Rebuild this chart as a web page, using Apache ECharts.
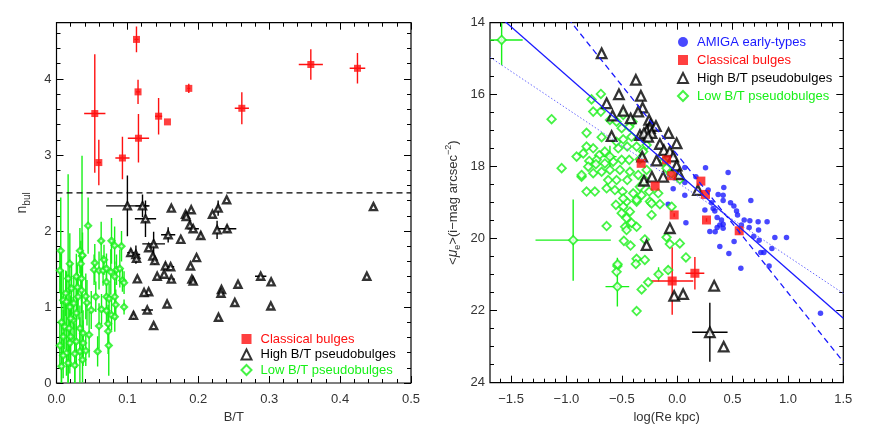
<!DOCTYPE html>
<html>
<head>
<meta charset="utf-8">
<script src="https://cdn.jsdelivr.net/npm/echarts@6/dist/echarts.min.js"></script>
<style>
  html, body { margin: 0; padding: 0; background: #fff; }
  #chart { width: 871px; height: 435px; }
</style>
</head>
<body>
<div id="chart"></div>
<script>
// ---- left panel: n_bul vs B/T  ([x, y, xErr, yErr]) ----
const classicalL = [
  [0.1128, 4.52, 0.003, 0.17], [0.115, 3.83, 0.003, 0.16], [0.054, 3.545, 0.015, 0.78],
  [0.0597, 2.90, 0.003, 0.30], [0.093, 2.96, 0.01, 0.28], [0.1156, 3.22, 0.015, 0.32],
  [0.144, 3.51, 0.005, 0.24], [0.1565, 3.435, 0, 0], [0.1866, 3.876, 0.002, 0.06],
  [0.2614, 3.614, 0.01, 0.21], [0.3587, 4.19, 0.017, 0.2], [0.4245, 4.14, 0.011, 0.2]
];
const highL = [
  [0.100, 2.33, 0.03, 0.4], [0.1213, 2.33, 0.01, 0.15], [0.1255, 2.16, 0.015, 0.24],
  [0.162, 2.30, 0, 0], [0.190, 2.28, 0, 0], [0.182, 2.22, 0, 0], [0.183, 2.19, 0, 0],
  [0.228, 2.30, 0.003, 0.1], [0.240, 2.41, 0, 0], [0.220, 2.22, 0, 0], [0.447, 2.32, 0, 0],
  [0.188, 2.08, 0, 0.05], [0.1928, 2.03, 0.008, 0], [0.2265, 2.015, 0, 0.12],
  [0.2406, 2.03, 0.013, 0.05], [0.2035, 1.94, 0, 0.05], [0.1575, 1.95, 0.01, 0.1],
  [0.1753, 1.89, 0, 0], [0.137, 1.83, 0.016, 0.16], [0.130, 1.78, 0, 0],
  [0.1048, 1.715, 0.005, 0.05], [0.112, 1.69, 0.006, 0.12], [0.1128, 1.64, 0, 0.05],
  [0.136, 1.67, 0, 0.05], [0.1386, 1.61, 0, 0.05], [0.1975, 1.65, 0, 0],
  [0.1537, 1.54, 0, 0.05], [0.161, 1.53, 0.005, 0], [0.189, 1.54, 0, 0],
  [0.1518, 1.43, 0, 0], [0.142, 1.405, 0, 0], [0.114, 1.37, 0, 0], [0.162, 1.366, 0.005, 0],
  [0.191, 1.366, 0, 0], [0.1928, 1.34, 0, 0], [0.256, 1.30, 0, 0], [0.288, 1.405, 0.008, 0],
  [0.3027, 1.33, 0, 0], [0.2327, 1.23, 0, 0], [0.232, 1.18, 0, 0], [0.130, 1.20, 0, 0],
  [0.1235, 1.19, 0, 0], [0.4377, 1.405, 0, 0], [0.156, 1.04, 0, 0], [0.2515, 1.06, 0, 0],
  [0.3023, 1.013, 0, 0], [0.128, 0.96, 0.008, 0], [0.1086, 0.89, 0.003, 0.05],
  [0.2285, 0.865, 0, 0], [0.137, 0.755, 0, 0]
];
const lowL = [
  [0.006, 1.74, 0.002, 0.7], [0.007, 0.80, 0.002, 0.9], [0.0164, 1.375, 0.003, 1.37],
  [0.036, 1.67, 0.003, 1.32], [0.033, 0.416, 0.003, 0.45], [0.0446, 2.07, 0.003, 0.37],
  [0.063, 1.87, 0.004, 0.25], [0.0776, 1.87, 0.003, 0.3], [0.082, 1.81, 0.003, 0.25],
  [0.0917, 1.80, 0.003, 0.2], [0.033, 1.74, 0.003, 0.3], [0.0367, 1.68, 0.003, 0.3],
  [0.0188, 1.57, 0.003, 0.4], [0.054, 1.58, 0.003, 0.25], [0.067, 1.62, 0.003, 0.2],
  [0.0343, 1.57, 0.003, 0.3], [0.053, 1.49, 0.003, 0.2], [0.060, 1.48, 0.003, 0.25],
  [0.0657, 1.48, 0.003, 0.2], [0.0705, 1.505, 0.003, 0.2], [0.0766, 1.46, 0.003, 0.3],
  [0.0846, 1.49, 0.003, 0.2], [0.0893, 1.505, 0.003, 0.25], [0.0047, 1.48, 0.002, 0.3],
  [0.028, 1.40, 0.003, 0.3], [0.0353, 1.375, 0.003, 0.3], [0.0705, 1.33, 0.003, 0.2],
  [0.0822, 1.40, 0.003, 0.2], [0.093, 1.35, 0.003, 0.15], [0.0953, 1.32, 0.003, 0.15],
  [0.0212, 1.245, 0.003, 0.35], [0.0353, 1.22, 0.003, 0.3], [0.0413, 1.14, 0.003, 0.3],
  [0.0554, 1.135, 0.003, 0.2], [0.0705, 1.135, 0.003, 0.2], [0.0742, 1.11, 0.003, 0.2],
  [0.0822, 1.135, 0.003, 0.2], [0.0094, 1.09, 0.002, 0.4], [0.014, 1.07, 0.002, 0.4],
  [0.0244, 1.05, 0.003, 0.35], [0.043, 1.056, 0.003, 0.3], [0.0836, 1.03, 0.003, 0.2],
  [0.0953, 1.00, 0.003, 0.1], [0.0635, 0.97, 0.003, 0.2], [0.049, 0.96, 0.003, 0.25],
  [0.0705, 0.95, 0.003, 0.2], [0.028, 0.92, 0.003, 0.3], [0.0776, 0.895, 0.003, 0.2],
  [0.0822, 0.873, 0.003, 0.2], [0.0234, 0.83, 0.003, 0.3], [0.060, 0.75, 0.003, 0.3],
  [0.0728, 0.78, 0.003, 0.25], [0.0728, 0.68, 0.003, 0.3], [0.0375, 0.656, 0.003, 0.3],
  [0.046, 0.634, 0.003, 0.3], [0.020, 0.61, 0.003, 0.4], [0.0094, 0.61, 0.002, 0.35],
  [0.028, 0.546, 0.003, 0.35], [0.0188, 0.525, 0.003, 0.4], [0.0375, 0.525, 0.003, 0.3],
  [0.0047, 0.494, 0.002, 0.3], [0.0737, 0.494, 0.003, 0.4], [0.058, 0.416, 0.003, 0.2],
  [0.014, 0.395, 0.002, 0.3], [0.0258, 0.386, 0.003, 0.4], [0.0413, 0.425, 0.003, 0.2],
  [0.0094, 0.363, 0.002, 0.3], [0.0367, 0.307, 0.003, 0.3], [0.007, 0.22, 0.002, 0.25],
  [0.0164, 0.264, 0.003, 0.3], [0.0258, 0.233, 0.003, 0.3], [0.0117, 0.74, 0.002, 0.3],
  [0.0178, 0.72, 0.003, 0.3], [0.033, 0.72, 0.003, 0.3], [0.020, 0.85, 0.003, 0.3],
  [0.013, 1.18, 0.002, 0.3], [0.0296, 1.26, 0.003, 0.3], [0.0305, 1.135, 0.003, 0.3],
  [0.0188, 1.00, 0.003, 0.3]
];
const dividerL = [[0, 2.5], [0.5, 2.5]];

// ---- right panel: <mu_e> vs log(Re) ----
const amigaR = [
  [0.256, 18.03], [0.46, 18.16], [0.069, 18.02], [0.169, 18.28], [0.069, 18.44], [-0.036, 18.61],
  [0.28, 18.65], [0.069, 18.79], [0.37, 18.77], [0.421, 18.58], [0.415, 18.79], [0.415, 18.94],
  [0.31, 19.0], [0.482, 19.0], [0.512, 19.09], [0.665, 18.94], [-0.081, 19.04], [0.325, 19.16],
  [0.34, 19.23], [0.25, 19.20], [0.536, 19.23], [0.545, 19.34], [0.361, 19.41], [0.605, 19.48],
  [0.40, 19.48], [0.079, 19.56], [0.385, 19.62], [0.415, 19.60], [0.361, 19.69], [0.731, 19.53],
  [0.812, 19.53], [0.735, 19.76], [0.65, 19.69], [0.295, 19.80], [0.343, 19.81], [0.692, 19.93],
  [0.74, 20.04], [0.882, 19.97], [0.987, 19.97], [0.514, 20.08], [0.385, 20.22], [0.855, 20.27],
  [0.783, 20.38], [0.755, 20.38], [0.467, 20.41], [0.83, 20.76], [0.575, 20.82], [1.294, 22.07],
  [0.415, 19.71], [0.58, 19.62], [0.656, 19.5]
];
const classicalR = [
  [-0.325, 17.906, 0, 0], [-0.199, 18.54, 0, 0], [-0.096, 17.81, 0, 0], [-0.05, 18.25, 0, 0],
  [0.214, 18.40, 0, 0], [0.256, 18.77, 0, 0], [-0.027, 19.34, 0, 0.05], [0.265, 19.48, 0, 0.05],
  [0.56, 19.78, 0, 0.1], [-0.045, 21.175, 0.19, 0.94], [0.16, 20.96, 0.085, 0.45]
];
const highR = [
  [-0.682, 14.85, 0, 0], [-0.373, 15.59, 0, 0], [-0.526, 15.99, 0, 0], [-0.328, 16.03, 0, 0],
  [-0.637, 16.24, 0, 0], [-0.312, 16.36, 0, 0], [-0.487, 16.45, 0, 0], [-0.352, 16.47, 0, 0],
  [-0.583, 16.58, 0, 0], [-0.42, 16.66, 0, 0], [-0.253, 16.70, 0, 0], [-0.24, 16.84, 0, 0],
  [-0.246, 16.93, 0, 0], [-0.192, 16.87, 0, 0], [-0.276, 17.01, 0, 0], [-0.336, 17.12, 0, 0],
  [-0.30, 17.07, 0, 0], [-0.231, 17.07, 0, 0], [-0.262, 17.17, 0, 0], [-0.592, 17.15, 0, 0],
  [-0.078, 17.07, 0, 0], [-0.156, 17.37, 0, 0], [-0.005, 17.35, 0, 0], [-0.12, 17.54, 0, 0],
  [-0.066, 17.58, 0, 0], [-0.036, 17.72, 0, 0], [-0.316, 17.72, 0, 0], [-0.186, 17.83, 0, 0],
  [-0.005, 17.97, 0, 0], [0.018, 18.21, 0, 0], [-0.30, 18.39, 0, 0], [-0.228, 18.28, 0, 0],
  [-0.126, 18.28, 0, 0], [0.187, 18.65, 0, 0], [-0.066, 19.71, 0, 0], [-0.276, 20.18, 0, 0],
  [-0.027, 21.59, 0, 0], [0.054, 21.54, 0, 0], [0.334, 21.31, 0, 0], [0.295, 22.60, 0.16, 0.82],
  [0.42, 23.0, 0, 0]
];
const lowR = [
  [-1.585, 14.48], [-0.689, 15.98], [-0.773, 16.13], [-0.689, 16.47], [-1.134, 16.68],
  [-0.758, 16.47], [-0.487, 16.56], [-0.607, 16.70], [-0.547, 16.75], [-0.403, 16.75],
  [-0.818, 17.06], [-0.682, 17.18], [-0.501, 16.93], [-0.433, 16.89], [-0.547, 17.31],
  [-0.487, 17.24], [-0.412, 17.17], [-0.758, 17.49], [-0.848, 17.63], [-0.704, 17.68],
  [-0.653, 17.58], [-0.532, 17.49], [-0.451, 17.44], [-0.366, 17.44], [-0.307, 17.58],
  [-0.276, 17.40], [-0.794, 17.84], [-0.727, 17.81], [-0.653, 17.91], [-0.578, 17.86],
  [-0.501, 17.81], [-0.433, 17.81], [-0.607, 17.72], [-1.043, 18.04], [-0.863, 18.28],
  [-0.758, 18.18], [-0.682, 18.14], [-0.607, 18.09], [-0.517, 18.09], [-0.427, 18.14],
  [-0.352, 18.23], [-0.276, 18.09], [-0.623, 18.37], [-0.547, 18.37], [-0.451, 18.37],
  [-0.292, 18.37], [-0.818, 18.69], [-0.743, 18.69], [-0.637, 18.60], [-0.562, 18.65],
  [-0.493, 18.69], [-0.397, 18.74], [-0.337, 18.56], [-0.253, 18.69], [-0.171, 18.74],
  [-0.457, 18.97], [-0.366, 18.97], [-0.246, 18.97], [-0.553, 19.06], [-0.096, 18.04],
  [0.024, 18.35], [-0.337, 17.79], [-0.487, 18.88], [-0.366, 18.92], [-0.321, 18.79],
  [-0.231, 19.02], [-0.156, 19.04], [-0.05, 19.11], [-0.487, 19.11], [-0.427, 19.25],
  [-0.501, 19.29], [-0.457, 19.43], [-0.412, 19.56], [-0.366, 19.67], [-0.47, 19.67],
  [-0.457, 19.76], [-0.637, 19.65], [-0.231, 19.34], [-0.096, 19.96], [-0.481, 20.06],
  [-0.421, 20.19], [-0.292, 20.02], [-0.066, 20.15], [0.024, 20.13], [0.079, 20.52],
  [-0.366, 20.56], [-0.292, 20.59], [-0.373, 20.70], [-0.081, 20.87], [-0.168, 20.99],
  [-0.262, 21.21], [-0.321, 21.41], [-0.366, 22.01], [-0.54, 20.76], [-0.547, 20.92],
  [-0.54, 21.33], [-0.908, 17.72], [-0.863, 18.23], [-0.818, 17.44], [-0.734, 17.93],
  [-0.803, 18.0], [-0.939, 20.04], [-0.538, 20.71], [-0.12, 17.85], [-0.055, 18.2]
];
const lowErrR = [
  [-1.585, 14.48, 0.19, 0.7], [-0.939, 20.04, 0.34, 1.13], [-0.54, 21.33, 0.107, 0.55],
  [-0.54, 20.76, 0.03, 0.23], [-0.607, 17.72, 0.06, 0.3], [-0.168, 20.99, 0.03, 0.2],
  [-0.081, 20.87, 0.02, 0.12]
];
const fitSolid = [[-1.69, 13.6], [1.5, 22.21]];
const fitDashed = [[-1.1, 13.44], [1.5, 23.42]];
const fitDotted = [[-1.69, 14.96], [1.5, 21.52]];

// ---- ticks ----
const ticksXL = [0, 0.1, 0.2, 0.3, 0.4, 0.5];
const minorXL = [0.02, 0.04, 0.06, 0.08, 0.12, 0.14, 0.16, 0.18, 0.22, 0.24, 0.26, 0.28,
  0.32, 0.34, 0.36, 0.38, 0.42, 0.44, 0.46, 0.48];
const ticksYL = [0, 1, 2, 3, 4];
const minorYL = [0.2, 0.4, 0.6, 0.8, 1.2, 1.4, 1.6, 1.8, 2.2, 2.4, 2.6, 2.8, 3.2, 3.4, 3.6, 3.8,
  4.2, 4.4, 4.6];
const ticksXR = [-1.5, -1.0, -0.5, 0, 0.5, 1.0, 1.5];
const minorXR = [-1.6, -1.4, -1.3, -1.2, -1.1, -0.9, -0.8, -0.7, -0.6, -0.4, -0.3, -0.2, -0.1,
  0.1, 0.2, 0.3, 0.4, 0.6, 0.7, 0.8, 0.9, 1.1, 1.2, 1.3, 1.4];
const ticksYR = [14, 16, 18, 20, 22, 24];
const minorYR = [14.5, 15, 15.5, 16.5, 17, 17.5, 18.5, 19, 19.5, 20.5, 21, 21.5, 22.5, 23, 23.5];

const RED = '#ff1010';
const GREEN = '#18f018';
const BLUE = '#1a1aff';
const FONT = 'Liberation Sans';
const labelStyle = { color: '#333', fontFamily: FONT, fontSize: 13 };
const tickLine = { color: '#000', width: 1 };

function axisSet(dim, grid, min, max, major, minor, fmt, extra) {
  const sides = dim === 'x' ? ['bottom', 'top'] : ['left', 'right'];
  const base = {
    type: 'value', gridIndex: grid, min: min, max: max, inverse: !!extra.inverse,
    splitLine: { show: false }, axisLine: { show: false, onZero: false }
  };
  return [
    Object.assign({}, base, {
      position: sides[0], name: extra.name, nameLocation: 'middle', nameGap: extra.nameGap,
      nameTextStyle: Object.assign({}, labelStyle, extra.nameStyle || {}),
      axisTick: { inside: true, length: 7, customValues: major, lineStyle: tickLine },
      axisLabel: Object.assign({ customValues: major, formatter: fmt, margin: extra.margin }, labelStyle)
    }),
    Object.assign({}, base, {
      position: sides[0],
      axisTick: { inside: true, length: 4, customValues: minor, lineStyle: tickLine },
      axisLabel: { show: false }
    }),
    Object.assign({}, base, {
      position: sides[1],
      axisTick: { inside: true, length: 7, customValues: major, lineStyle: tickLine },
      axisLabel: { show: false }
    }),
    Object.assign({}, base, {
      position: sides[1],
      axisTick: { inside: true, length: 4, customValues: minor, lineStyle: tickLine },
      axisLabel: { show: false }
    })
  ];
}

function errorBars(data, axis, color) {
  return {
    type: 'custom', xAxisIndex: axis, yAxisIndex: axis, clip: true, silent: true,
    data: data, encode: { x: 0, y: 1 },
    renderItem: function (params, api) {
      const x = api.value(0), y = api.value(1), ex = api.value(2), ey = api.value(3);
      const kids = [];
      const st = { stroke: color, lineWidth: 1.4 };
      if (ex > 0) {
        const a = api.coord([x - ex, y]), b = api.coord([x + ex, y]);
        kids.push({ type: 'line', shape: { x1: a[0], y1: a[1], x2: b[0], y2: b[1] }, style: st });
      }
      if (ey > 0) {
        const a = api.coord([x, y - ey]), b = api.coord([x, y + ey]);
        kids.push({ type: 'line', shape: { x1: a[0], y1: a[1], x2: b[0], y2: b[1] }, style: st });
      }
      return { type: 'group', children: kids };
    }
  };
}

const fmtR = v => (v < 0 ? '\u2212' : '') + Math.abs(v).toFixed(1);
const legendText = { fontFamily: FONT, fontSize: 13, padding: [0, 0, 0, 4] };

const chart = echarts.init(document.getElementById('chart'));
chart.setOption({
  animation: false,
  backgroundColor: '#fff',
  grid: [
    { left: 56.5, right: 460, top: 22.7, bottom: 52, show: true, borderColor: '#000', borderWidth: 1.2 },
    { left: 490, right: 27.7, top: 22.7, bottom: 52.3, show: true, borderColor: '#000', borderWidth: 1.2 }
  ],
  xAxis: [].concat(
    axisSet('x', 0, 0, 0.5, ticksXL, minorXL, v => v.toFixed(1), { name: 'B/T', nameGap: 27, margin: 10 }),
    axisSet('x', 1, -1.69, 1.5, ticksXR, minorXR, fmtR, { name: 'log(Re kpc)', nameGap: 28, margin: 10 })
  ),
  yAxis: [].concat(
    axisSet('y', 0, 0, 4.74, ticksYL, minorYL, v => String(v), {
      name: '{n|n}{s|bul}', nameGap: 24, margin: 5,
      nameStyle: { rich: { n: { fontSize: 14, fontFamily: FONT, color: '#333' },
        s: { fontSize: 10, fontFamily: FONT, color: '#333', verticalAlign: 'bottom', padding: [10, 0, 0, 0] } } }
    }),
    axisSet('y', 1, 14, 24, ticksYR, minorYR, v => String(v), {
      inverse: true, name: '<{mu|\u03bc}{e|e}>(i\u2212mag arcsec{sup|\u22122})', nameGap: 28, margin: 5,
      nameStyle: { fontSize: 13, rich: {
        mu: { fontSize: 14, fontStyle: 'italic', fontFamily: FONT, color: '#333' },
        e: { fontSize: 9, fontFamily: FONT, color: '#333', verticalAlign: 'bottom', padding: [9, 0, 0, 0] },
        sup: { fontSize: 9, fontFamily: FONT, color: '#333', verticalAlign: 'top', padding: [0, 0, 9, 0] }
      } }
    })
  ),
  legend: [
    {
      left: 235.5, top: 327.5, orient: 'vertical', itemWidth: 10, itemHeight: 10, itemGap: 2.5,
      selectedMode: false, textStyle: legendText,
      data: [
        { name: 'Classical bulges', textStyle: { color: RED } },
        { name: 'High B/T pseudobulges', textStyle: { color: '#000' } },
        { name: 'Low B/T pseudobulges', textStyle: { color: GREEN } }
      ]
    },
    {
      left: 672, top: 30.5, orient: 'vertical', itemWidth: 10, itemHeight: 10, itemGap: 5,
      selectedMode: false, textStyle: legendText,
      data: [
        { name: 'AMIGA early-types', textStyle: { color: BLUE } },
        { name: 'Classical bulges', textStyle: { color: RED } },
        { name: 'High B/T pseudobulges', textStyle: { color: '#000' } },
        { name: 'Low B/T pseudobulges', textStyle: { color: GREEN } }
      ]
    }
  ],
  series: [
    // left panel
    {
      type: 'line', xAxisIndex: 0, yAxisIndex: 0, data: dividerL, showSymbol: false, silent: true,
      lineStyle: { color: '#000', width: 1.2, type: [6, 4] }
    },
    errorBars(lowL, 0, GREEN),
    errorBars(highL, 0, '#000'),
    errorBars(classicalL, 0, RED),
    {
      name: 'Classical bulges', type: 'scatter', xAxisIndex: 0, yAxisIndex: 0, data: classicalL,
      symbol: 'rect', symbolSize: 7, itemStyle: { color: RED }
    },
    {
      name: 'High B/T pseudobulges', type: 'scatter', xAxisIndex: 0, yAxisIndex: 0, data: highL,
      symbol: 'triangle', symbolSize: 7, itemStyle: { color: '#fff', borderColor: '#000', borderWidth: 2.4 }
    },
    {
      name: 'Low B/T pseudobulges', type: 'scatter', xAxisIndex: 0, yAxisIndex: 0, data: lowL,
      symbol: 'diamond', symbolSize: 6, itemStyle: { color: '#fff', borderColor: GREEN, borderWidth: 2.2 }
    },
    // right panel
    {
      name: 'AMIGA early-types', type: 'scatter', xAxisIndex: 4, yAxisIndex: 4, data: amigaR,
      symbol: 'circle', symbolSize: 5.5, itemStyle: { color: BLUE }
    },
    errorBars(lowErrR, 4, GREEN),
    {
      name: 'Low B/T pseudobulges', type: 'scatter', xAxisIndex: 4, yAxisIndex: 4, data: lowR,
      symbol: 'diamond', symbolSize: 8.5, itemStyle: { color: '#fff', borderColor: GREEN, borderWidth: 1.8 }
    },
    errorBars(highR, 4, '#000'),
    {
      name: 'High B/T pseudobulges', type: 'scatter', xAxisIndex: 4, yAxisIndex: 4, data: highR,
      symbol: 'triangle', symbolSize: 9.5, itemStyle: { color: '#fff', borderColor: '#000', borderWidth: 2.3 }
    },
    errorBars(classicalR, 4, RED),
    {
      name: 'Classical bulges', type: 'scatter', xAxisIndex: 4, yAxisIndex: 4, data: classicalR,
      symbol: 'rect', symbolSize: 9, itemStyle: { color: RED }
    },
    {
      type: 'line', xAxisIndex: 4, yAxisIndex: 4, data: fitSolid, showSymbol: false, silent: true,
      lineStyle: { color: BLUE, width: 1.3 }
    },
    {
      type: 'line', xAxisIndex: 4, yAxisIndex: 4, data: fitDashed, showSymbol: false, silent: true,
      lineStyle: { color: BLUE, width: 1.3, type: [6, 4] }
    },
    {
      type: 'line', xAxisIndex: 4, yAxisIndex: 4, data: fitDotted, showSymbol: false, silent: true,
      lineStyle: { color: '#6a6aff', width: 1, type: [1.5, 2] }
    }
  ]
});
</script>
</body>
</html>
